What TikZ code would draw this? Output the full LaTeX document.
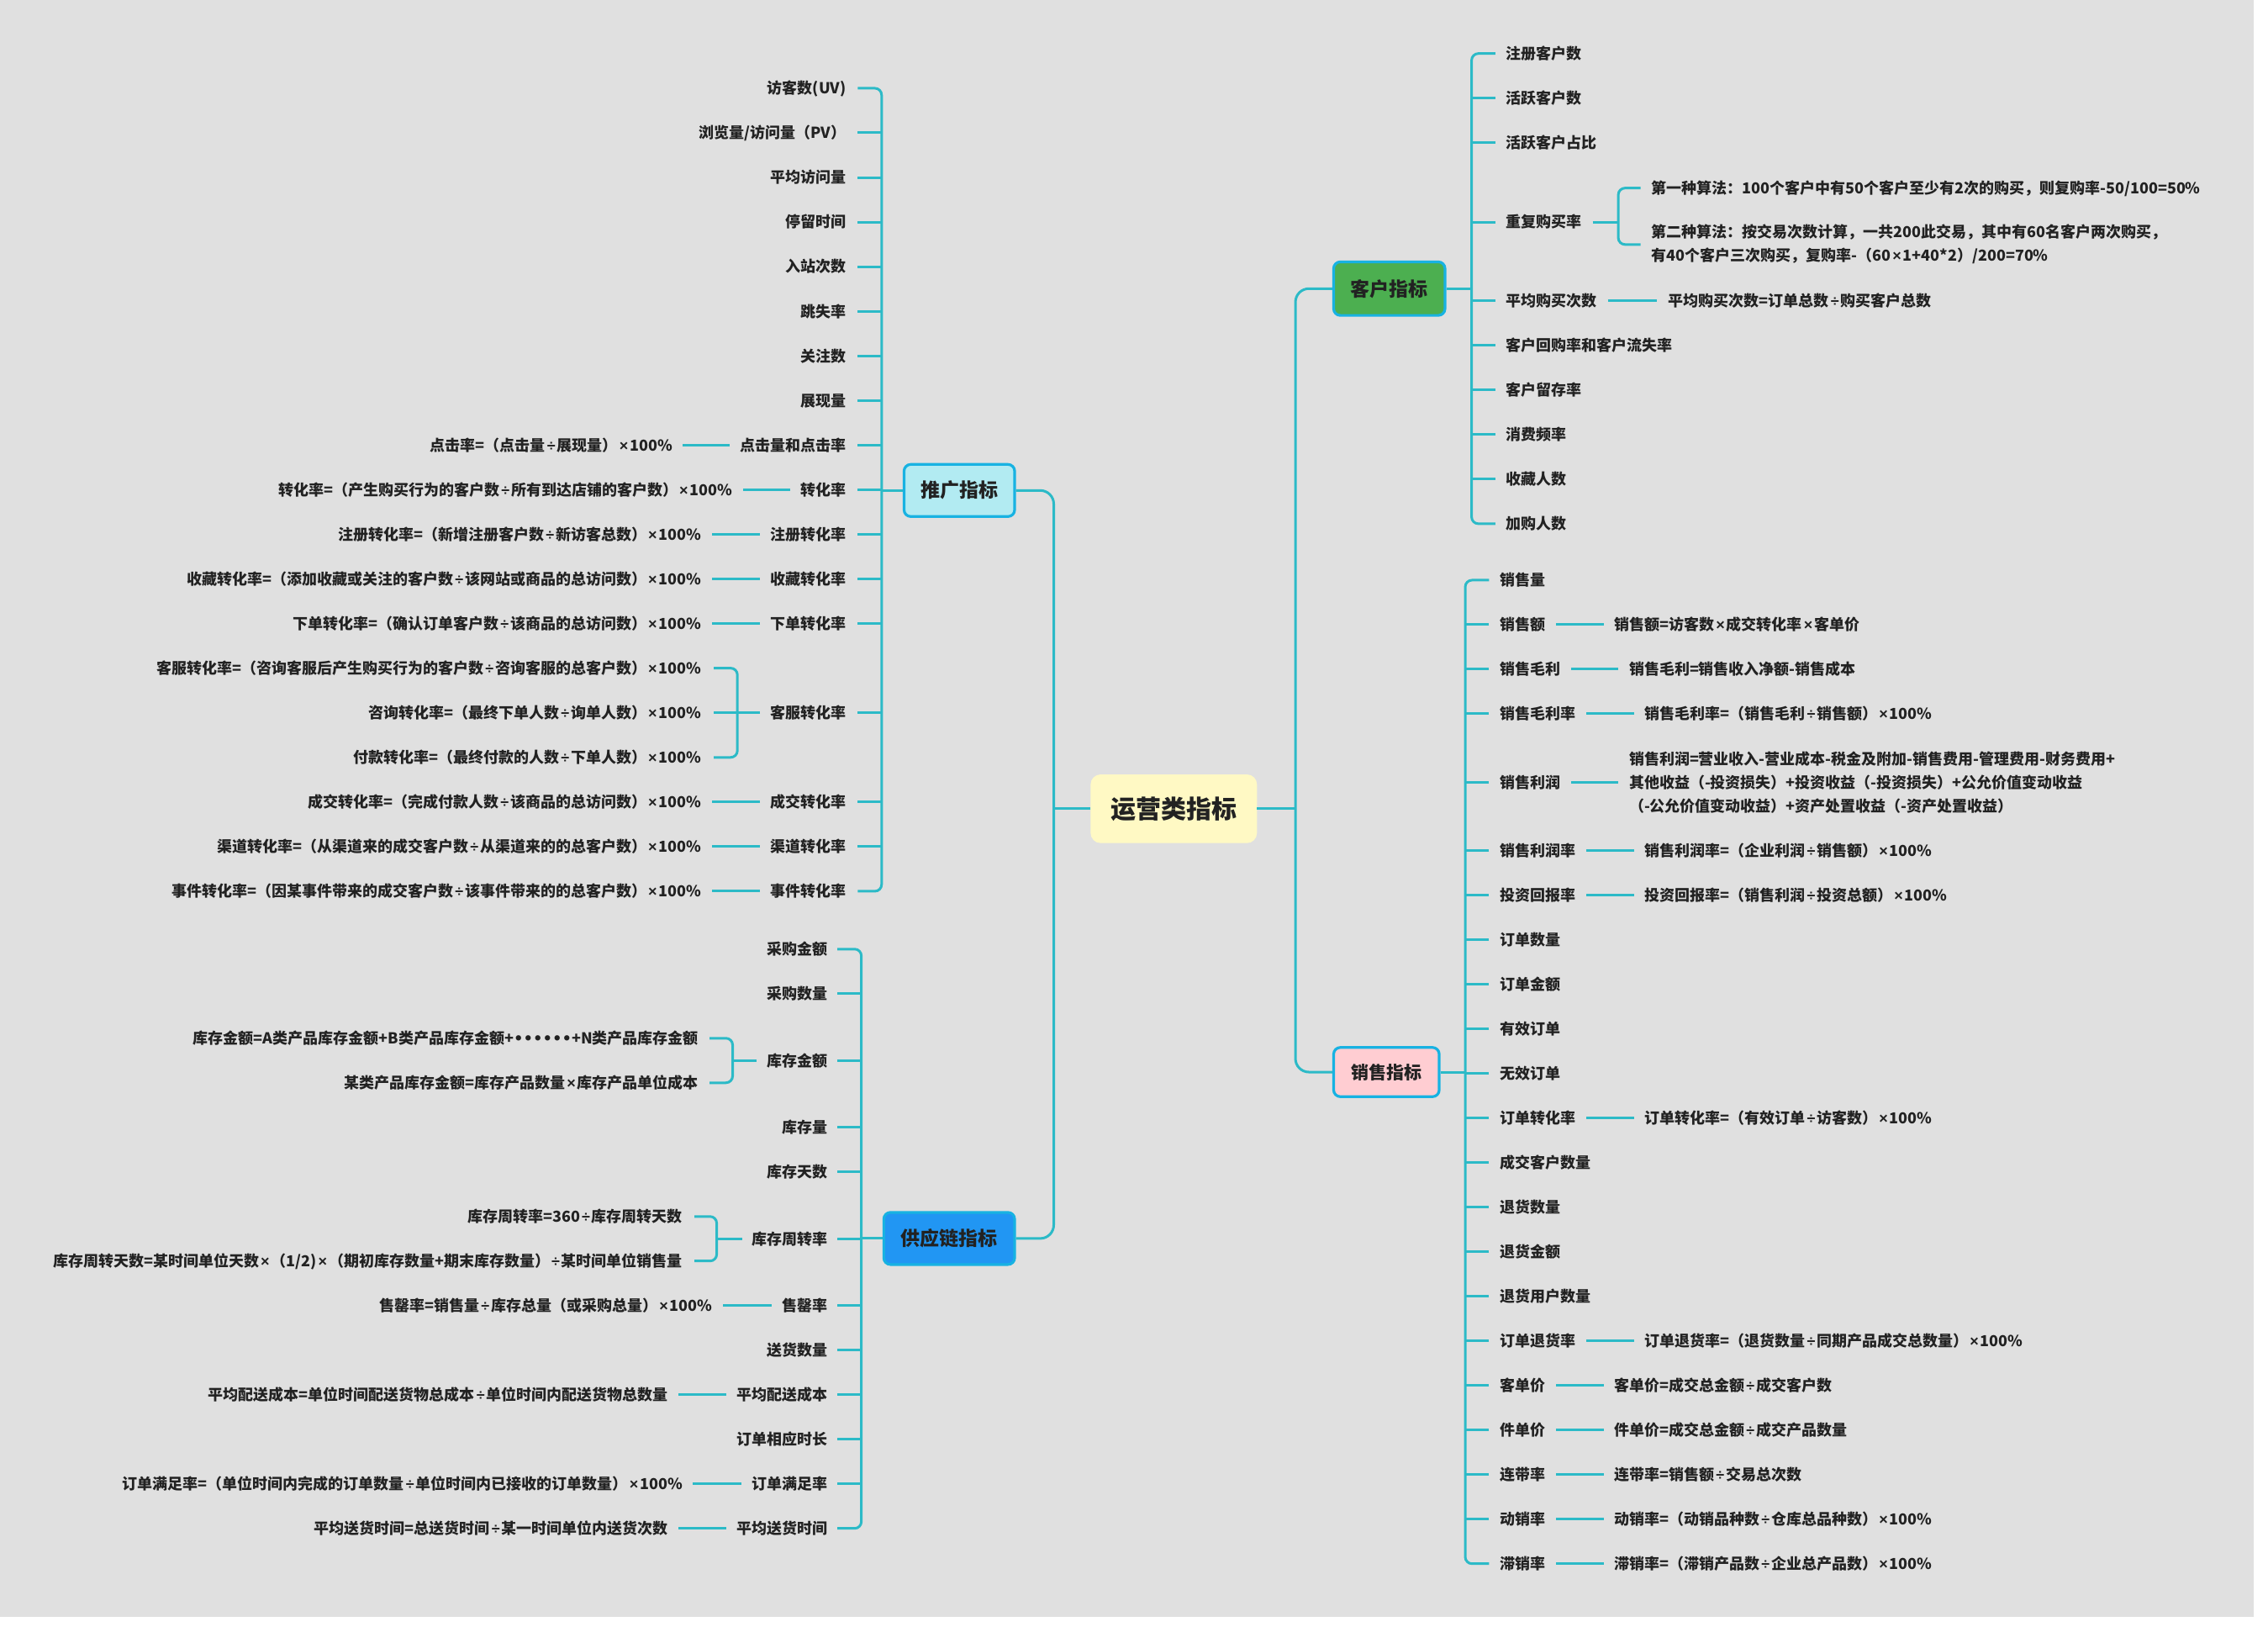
\documentclass[tikz,border=0pt]{standalone}
\usepackage{fontspec}
\setmainfont{Noto Sans CJK SC}
\newfontfamily\latn{Liberation Sans}
\newfontfamily\dvfont{DejaVu Sans}
% narrow Latin glyphs for the operators and the dotted run
\newcommand\mul{\kern2pt{\latn ×}\kern2pt}
\newcommand\dvd{\kern2pt{\latn ÷}\kern2pt}
\newcommand\bulls{{\dvfont ••••••}}
\definecolor{bgray}{RGB}{224,224,224}
\definecolor{wirec}{RGB}{44,186,199}
\definecolor{ink}{RGB}{34,34,34}
\definecolor{rim}{RGB}{24,178,226}
\definecolor{rootfill}{RGB}{255,249,196}
\definecolor{promofill}{RGB}{178,235,242}
\definecolor{supplyfill}{RGB}{33,150,243}
\definecolor{custfill}{RGB}{76,175,80}
\definecolor{salesfill}{RGB}{255,205,210}
\newcommand\leaffont{\bfseries\fontsize{18}{28}\selectfont}
\tikzset{
  leaf/.style={font=\leaffont, text=ink, inner sep=0pt, text height=15.8pt, text depth=2.2pt},
  multi/.style={font=\leaffont, text=ink, inner sep=0pt, align=left},
  wire/.style={draw=wirec, line width=3pt},
  twig/.style={wire, rounded corners=8pt},
  trunk/.style={wire, rounded corners=16pt},
  topic/.style={draw=rim, line width=3.2pt, rounded corners=8pt, text=ink, inner sep=0pt},
  root/.style={fill=rootfill, rounded corners=12pt, text=ink, inner sep=0pt,
    font=\bfseries\fontsize{30}{36}\selectfont}
}
\begin{document}
\begin{tikzpicture}[x=1.7207pt, y=-1.7207pt]
\path[use as bounding box, fill=white] (0,0) rectangle (1568,1124.5);
\fill[bgray] (0,0) rectangle (1558.1,1117.6);

% ---------- root and the four topics ----------
\node[root, minimum width=197.9pt, minimum height=81.7pt] (root) at (811.5,559) {运营类指标};
\node[topic, fill=promofill, minimum width=131.6pt, minimum height=62pt,
  font=\bfseries\fontsize{23}{28}\selectfont] (promo) at (663.25,339) {推广指标};
\node[topic, fill=supplyfill, minimum width=155.7pt, minimum height=62pt,
  font=\bfseries\fontsize{23}{28}\selectfont] (supply) at (656.25,856) {供应链指标};
\node[topic, fill=custfill, minimum width=132.5pt, minimum height=63.7pt,
  font=\bfseries\fontsize{23}{28}\selectfont] (cust) at (960.5,199.5) {客户指标};
\node[topic, fill=salesfill, minimum width=125.6pt, minimum height=58.5pt,
  font=\bfseries\fontsize{21}{28}\selectfont] (sales) at (958.5,741) {销售指标};

\coordinate (jl) at (728.5,559);
\coordinate (jlb) at (728.5,856);
\coordinate (jr) at (895.6,559);
\coordinate (jrb) at (895.6,741);
\draw[wire] (root.west) -- (jl);
\draw[wire] (root.east) -- (jr);
\draw[trunk] (promo.east) -| (jlb) -- (supply.east);
\draw[trunk] (cust.west) -| (jrb) -- (sales.west);

% ---------- 推广指标 ----------
\node[leaf, anchor=east] (p1) at (585,61) {访客数(UV)};
\node[leaf, anchor=east] (p2) at (585,91.8) {浏览量/访问量（PV）};
\node[leaf, anchor=east] (p3) at (585,122.7) {平均访问量};
\node[leaf, anchor=east] (p4) at (585,153.5) {停留时间};
\node[leaf, anchor=east] (p5) at (585,184.3) {入站次数};
\node[leaf, anchor=east] (p6) at (585,215.2) {跳失率};
\node[leaf, anchor=east] (p7) at (585,246) {关注数};
\node[leaf, anchor=east] (p8) at (585,276.8) {展现量};
\node[leaf, anchor=east] (p9) at (585,307.7) {点击量和点击率};
\node[leaf, anchor=east] (p10) at (585,338.5) {转化率};
\node[leaf, anchor=east] (p11) at (585,369.3) {注册转化率};
\node[leaf, anchor=east] (p12) at (585,400.2) {收藏转化率};
\node[leaf, anchor=east] (p13) at (585,431) {下单转化率};
\node[leaf, anchor=east] (p14) at (585,492.6) {客服转化率};
\node[leaf, anchor=east] (p15) at (585,554.3) {成交转化率};
\node[leaf, anchor=east] (p16) at (585,585.1) {渠道转化率};
\node[leaf, anchor=east] (p17) at (585,616) {事件转化率};

\node[leaf, anchor=east] (q9) at (465,307.7) {点击率=（点击量\dvd{}展现量）\mul{}100\%};
\node[leaf, anchor=east] (q10) at (506.5,338.5) {转化率=（产生购买行为的客户数\dvd{}所有到达店铺的客户数）\mul{}100\%};
\node[leaf, anchor=east] (q11) at (485,369.3) {注册转化率=（新增注册客户数\dvd{}新访客总数）\mul{}100\%};
\node[leaf, anchor=east] (q12) at (485,400.2) {收藏转化率=（添加收藏或关注的客户数\dvd{}该网站或商品的总访问数）\mul{}100\%};
\node[leaf, anchor=east] (q13) at (485,431) {下单转化率=（确认订单客户数\dvd{}该商品的总访问数）\mul{}100\%};
\node[leaf, anchor=east] (q14a) at (485,461.8) {客服转化率=（咨询客服后产生购买行为的客户数\dvd{}咨询客服的总客户数）\mul{}100\%};
\node[leaf, anchor=east] (q14b) at (485,492.6) {咨询转化率=（最终下单人数\dvd{}询单人数）\mul{}100\%};
\node[leaf, anchor=east] (q14c) at (485,523.5) {付款转化率=（最终付款的人数\dvd{}下单人数）\mul{}100\%};
\node[leaf, anchor=east] (q15) at (485,554.3) {成交转化率=（完成付款人数\dvd{}该商品的总访问数）\mul{}100\%};
\node[leaf, anchor=east] (q16) at (485,585.1) {渠道转化率=（从渠道来的成交客户数\dvd{}从渠道来的的总客户数）\mul{}100\%};
\node[leaf, anchor=east] (q17) at (485,616) {事件转化率=（因某事件带来的成交客户数\dvd{}该事件带来的的总客户数）\mul{}100\%};

\coordinate (pv) at (609.5,338.5);
\draw[wire] (promo.west) -- (promo.west -| pv);
\draw[twig] ([xshift=13.8pt]p1.east) -| (p17.east -| pv) -- ([xshift=13.8pt]p17.east);
\foreach \i in {2,...,16} \draw[wire] ([xshift=13.8pt]p\i.east) -- (p\i.east -| pv);
\foreach \i in {9,10,11,12,13,15,16,17} \draw[wire] ([xshift=-12pt]p\i.west) -- ([xshift=12pt]q\i.east);
\coordinate (kb) at (509.8,492.6);
\draw[wire] ([xshift=-12pt]p14.west) -- (kb);
\draw[twig] ([xshift=14.6pt]q14a.east) -| (q14c.east -| kb) -- ([xshift=14.6pt]q14c.east);
\draw[wire] ([xshift=14.6pt]q14b.east) -- (kb);

% ---------- 供应链指标 ----------
\node[leaf, anchor=east] (g1) at (572,656) {采购金额};
\node[leaf, anchor=east] (g2) at (572,686.8) {采购数量};
\node[leaf, anchor=east] (g3) at (572,733) {库存金额};
\node[leaf, anchor=east] (g4) at (572,779.2) {库存量};
\node[leaf, anchor=east] (g5) at (572,810) {库存天数};
\node[leaf, anchor=east] (g6) at (572,856.2) {库存周转率};
\node[leaf, anchor=east] (g7) at (572,902.4) {售罄率};
\node[leaf, anchor=east] (g8) at (572,933.2) {送货数量};
\node[leaf, anchor=east] (g9) at (572,964) {平均配送成本};
\node[leaf, anchor=east] (g10) at (572,994.8) {订单相应时长};
\node[leaf, anchor=east] (g11) at (572,1025.6) {订单满足率};
\node[leaf, anchor=east] (g12) at (572,1056.4) {平均送货时间};

\node[leaf, anchor=east] (h3a) at (483,717.6) {库存金额=A类产品库存金额+B类产品库存金额+\bulls{}+N类产品库存金额};
\node[leaf, anchor=east] (h3b) at (483,748.4) {某类产品库存金额=库存产品数量\mul{}库存产品单位成本};
\node[leaf, anchor=east] (h6a) at (472,840.8) {库存周转率=360\dvd{}库存周转天数};
\node[leaf, anchor=east] (h6b) at (472,871.6) {库存周转天数=某时间单位天数\mul{}（1/2)\mul{}（期初库存数量+期末库存数量）\dvd{}某时间单位销售量};
\node[leaf, anchor=east] (h7) at (492.6,902.4) {售罄率=销售量\dvd{}库存总量（或采购总量）\mul{}100\%};
\node[leaf, anchor=east] (h9) at (462,964) {平均配送成本=单位时间配送货物总成本\dvd{}单位时间内配送货物总数量};
\node[leaf, anchor=east] (h11) at (472,1025.6) {订单满足率=（单位时间内完成的订单数量\dvd{}单位时间内已接收的订单数量）\mul{}100\%};
\node[leaf, anchor=east] (h12) at (462,1056.4) {平均送货时间=总送货时间\dvd{}某一时间单位内送货次数};

\coordinate (gv) at (595.5,856);
\draw[wire] (supply.west) -- (supply.west -| gv);
\draw[twig] ([xshift=12pt]g1.east) -| (g12.east -| gv) -- ([xshift=12pt]g12.east);
\foreach \i in {2,...,11} \draw[wire] ([xshift=12pt]g\i.east) -- (g\i.east -| gv);
\foreach \i in {7,9,11,12} \draw[wire] ([xshift=-12pt]g\i.west) -- ([xshift=12pt]h\i.east);
\coordinate (ab) at (506.5,733);
\draw[wire] ([xshift=-12pt]g3.west) -- (ab);
\draw[twig] ([xshift=13pt]h3a.east) -| (h3b.east -| ab) -- ([xshift=13pt]h3b.east);
\coordinate (tb) at (495.5,856.2);
\draw[wire] ([xshift=-11pt]g6.west) -- (tb);
\draw[twig] ([xshift=14pt]h6a.east) -| (h6b.east -| tb) -- ([xshift=14pt]h6b.east);

% ---------- 客户指标 ----------
\node[leaf, anchor=west] (c1) at (1041,37) {注册客户数};
\node[leaf, anchor=west] (c2) at (1041,67.8) {活跃客户数};
\node[leaf, anchor=west] (c3) at (1041,98.6) {活跃客户占比};
\node[leaf, anchor=west] (c4) at (1041,153.5) {重复购买率};
\node[leaf, anchor=west] (c5) at (1041,208) {平均购买次数};
\node[leaf, anchor=west] (c6) at (1041,238.8) {客户回购率和客户流失率};
\node[leaf, anchor=west] (c7) at (1041,269.6) {客户留存率};
\node[leaf, anchor=west] (c8) at (1041,300.4) {消费频率};
\node[leaf, anchor=west] (c9) at (1041,331.2) {收藏人数};
\node[leaf, anchor=west] (c10) at (1041,362) {加购人数};

\node[leaf, anchor=west] (d4a) at (1141.7,130) {第一种算法：100个客户中有50个客户至少有2次的购买，则复购率-50/100=50\%};
\node[multi, anchor=west] (d4b) at (1141.7,169) {第二种算法：按交易次数计算，一共200此交易，其中有60名客户两次购买，\\有40个客户三次购买，复购率-（60\mul{}1+40*2）/200=70\%};
\node[leaf, anchor=west] (d5) at (1153.4,208) {平均购买次数=订单总数\dvd{}购买客户总数};

\coordinate (cv) at (1017.4,199.5);
\draw[wire] (cust.east) -- (cust.east -| cv);
\draw[twig] ([xshift=-12.4pt]c1.west) -| (c10.west -| cv) -- ([xshift=-12.4pt]c10.west);
\foreach \i in {2,...,9} \draw[wire] ([xshift=-12.4pt]c\i.west) -- (c\i.west -| cv);
\draw[wire] ([xshift=13pt]c5.east) -- ([xshift=-14pt]d5.west);
\coordinate (rb) at (1118.8,153.5);
\draw[wire] ([xshift=13pt]c4.east) -- (rb);
\draw[twig] ([xshift=-13pt]d4a.west) -| (d4b.west -| rb) -- ([xshift=-13pt]d4b.west);

% ---------- 销售指标 ----------
\node[leaf, anchor=west] (s1) at (1036.8,401) {销售量};
\node[leaf, anchor=west] (s2) at (1036.8,431.8) {销售额};
\node[leaf, anchor=west] (s3) at (1036.8,462.6) {销售毛利};
\node[leaf, anchor=west] (s4) at (1036.8,493.4) {销售毛利率};
\node[leaf, anchor=west] (s5) at (1036.8,540.7) {销售利润};
\node[leaf, anchor=west] (s6) at (1036.8,588) {销售利润率};
\node[leaf, anchor=west] (s7) at (1036.8,618.8) {投资回报率};
\node[leaf, anchor=west] (s8) at (1036.8,649.6) {订单数量};
\node[leaf, anchor=west] (s9) at (1036.8,680.4) {订单金额};
\node[leaf, anchor=west] (s10) at (1036.8,711.2) {有效订单};
\node[leaf, anchor=west] (s11) at (1036.8,742) {无效订单};
\node[leaf, anchor=west] (s12) at (1036.8,772.8) {订单转化率};
\node[leaf, anchor=west] (s13) at (1036.8,803.6) {成交客户数量};
\node[leaf, anchor=west] (s14) at (1036.8,834.4) {退货数量};
\node[leaf, anchor=west] (s15) at (1036.8,865.2) {退货金额};
\node[leaf, anchor=west] (s16) at (1036.8,896) {退货用户数量};
\node[leaf, anchor=west] (s17) at (1036.8,926.8) {订单退货率};
\node[leaf, anchor=west] (s18) at (1036.8,957.6) {客单价};
\node[leaf, anchor=west] (s19) at (1036.8,988.4) {件单价};
\node[leaf, anchor=west] (s20) at (1036.8,1019.2) {连带率};
\node[leaf, anchor=west] (s21) at (1036.8,1050) {动销率};
\node[leaf, anchor=west] (s22) at (1036.8,1080.8) {滞销率};

\node[leaf, anchor=west] (t2) at (1116,431.8) {销售额=访客数\mul{}成交转化率\mul{}客单价};
\node[leaf, anchor=west] (t3) at (1126.2,462.6) {销售毛利=销售收入净额-销售成本};
\node[leaf, anchor=west] (t4) at (1137,493.4) {销售毛利率=（销售毛利\dvd{}销售额）\mul{}100\%};
\node[multi, anchor=west] (t5) at (1126.2,540.7) {销售利润=营业收入-营业成本-税金及附加-销售费用-管理费用-财务费用+\\其他收益（-投资损失）+投资收益（-投资损失）+公允价值变动收益\\（-公允价值变动收益）+资产处置收益（-资产处置收益）};
\node[leaf, anchor=west] (t6) at (1137,588) {销售利润率=（企业利润\dvd{}销售额）\mul{}100\%};
\node[leaf, anchor=west] (t7) at (1137,618.8) {投资回报率=（销售利润\dvd{}投资总额）\mul{}100\%};
\node[leaf, anchor=west] (t12) at (1137,772.8) {订单转化率=（有效订单\dvd{}访客数）\mul{}100\%};
\node[leaf, anchor=west] (t17) at (1137,926.8) {订单退货率=（退货数量\dvd{}同期产品成交总数量）\mul{}100\%};
\node[leaf, anchor=west] (t18) at (1116,957.6) {客单价=成交总金额\dvd{}成交客户数};
\node[leaf, anchor=west] (t19) at (1116,988.4) {件单价=成交总金额\dvd{}成交产品数量};
\node[leaf, anchor=west] (t20) at (1116,1019.2) {连带率=销售额\dvd{}交易总次数};
\node[leaf, anchor=west] (t21) at (1116,1050) {动销率=（动销品种数\dvd{}仓库总品种数）\mul{}100\%};
\node[leaf, anchor=west] (t22) at (1116,1080.8) {滞销率=（滞销产品数\dvd{}企业总产品数）\mul{}100\%};

\coordinate (sv) at (1013,741);
\draw[wire] (sales.east) -- (sales.east -| sv);
\draw[twig] ([xshift=-12.6pt]s1.west) -| (s22.west -| sv) -- ([xshift=-12.6pt]s22.west);
\foreach \i in {2,...,21} \draw[wire] ([xshift=-12.6pt]s\i.west) -- (s\i.west -| sv);
\foreach \i in {2,3,4,5,6,7,12,17,18,19,20,21,22} \draw[wire] ([xshift=12.6pt]s\i.east) -- ([xshift=-12.6pt]t\i.west);
\end{tikzpicture}
\end{document}
